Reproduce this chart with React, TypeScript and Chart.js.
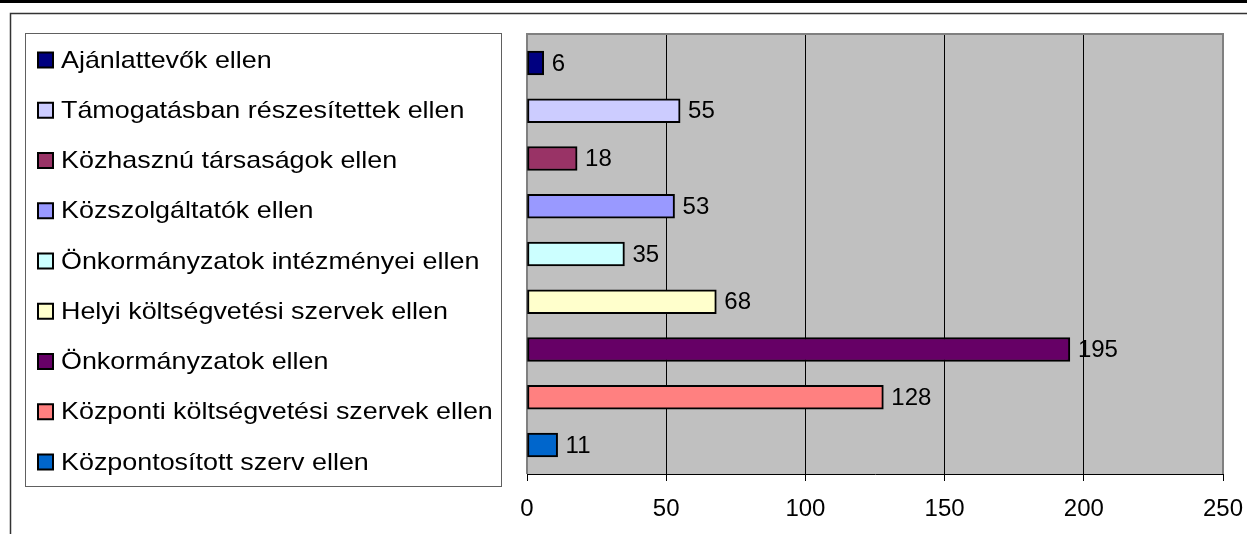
import { useEffect, useRef } from "react";
import { Chart, registerables } from "chart.js";

Chart.register(...registerables);

const categories = [
  "Ajánlattevők ellen",
  "Támogatásban részesítettek ellen",
  "Közhasznú társaságok ellen",
  "Közszolgáltatók ellen",
  "Önkormányzatok intézményei ellen",
  "Helyi költségvetési szervek ellen",
  "Önkormányzatok ellen",
  "Központi költségvetési szervek ellen",
  "Központosított szerv ellen",
];
const values = [6, 55, 18, 53, 35, 68, 195, 128, 11];
const colors = [
  "#000080",
  "#CCCCFF",
  "#993366",
  "#9999FF",
  "#CCFFFF",
  "#FFFFCC",
  "#660066",
  "#FF8080",
  "#0066CC",
];
const xTickValues = [0, 50, 100, 150, 200, 250];

const FONT = '"Liberation Sans", Arial, sans-serif';

const framePlugin = {
  id: "frame",
  beforeDraw(chart: any) {
    const { ctx, width, height, chartArea } = chart;
    ctx.save();
    ctx.fillStyle = "#ffffff";
    ctx.fillRect(0, 0, width, height);
    ctx.fillStyle = "#000000";
    ctx.fillRect(0, 0, width, 3);
    ctx.strokeStyle = "#333333";
    ctx.lineWidth = 1.5;
    ctx.beginPath();
    ctx.moveTo(10.5, height);
    ctx.lineTo(10.5, 13.5);
    ctx.lineTo(width, 13.5);
    ctx.stroke();
    ctx.fillStyle = "#C0C0C0";
    ctx.fillRect(
      chartArea.left,
      chartArea.top,
      chartArea.right - chartArea.left,
      chartArea.bottom - chartArea.top
    );
    ctx.restore();
  },
  beforeDatasetsDraw(chart: any) {
    const { ctx, chartArea } = chart;
    ctx.save();
    ctx.strokeStyle = "#808080";
    ctx.lineWidth = 2;
    ctx.beginPath();
    ctx.moveTo(chartArea.left, chartArea.bottom);
    ctx.lineTo(chartArea.left, chartArea.top);
    ctx.lineTo(chartArea.right, chartArea.top);
    ctx.lineTo(chartArea.right, chartArea.bottom);
    ctx.stroke();
    ctx.restore();
  },
  afterDatasetsDraw(chart: any) {
    const { ctx } = chart;
    const meta = chart.getDatasetMeta(0);
    ctx.save();
    ctx.fillStyle = "#000000";
    ctx.font = `24px ${FONT}`;
    ctx.textAlign = "left";
    ctx.textBaseline = "middle";
    meta.data.forEach((bar: any, i: number) => {
      ctx.fillText(String(values[i]), bar.x + 8, bar.y + 1);
    });
    ctx.restore();
  },
  afterDraw(chart: any) {
    const { ctx } = chart;
    ctx.save();
    ctx.strokeStyle = "#606060";
    ctx.lineWidth = 1;
    ctx.strokeRect(25.5, 33.5, 476, 453);
    categories.forEach((label, i) => {
      const cy = 60 + i * 50.25;
      ctx.fillStyle = colors[i];
      ctx.fillRect(38, cy - 7.5, 15, 15);
      ctx.strokeStyle = "#000000";
      ctx.lineWidth = 2;
      ctx.strokeRect(38, cy - 7.5, 15, 15);
      ctx.save();
      ctx.translate(61, cy + 1);
      ctx.scale(1.12, 1);
      ctx.font = `24px ${FONT}`;
      ctx.textAlign = "left";
      ctx.textBaseline = "middle";
      ctx.fillStyle = "#000000";
      ctx.fillText(label, 0, 0);
      ctx.restore();
    });
    ctx.restore();
  },
};

export default function App() {
  const canvasRef = useRef<HTMLCanvasElement | null>(null);

  useEffect(() => {
    document.body.style.margin = "0";
    const canvas = canvasRef.current;
    if (!canvas) return;
    const chart = new Chart(canvas, {
      type: "bar",
      data: {
        labels: categories,
        datasets: [
          {
            data: values.map((v, i) => ({ x: v, y: i })),
            backgroundColor: colors,
            borderColor: "#000000",
            borderWidth: 2,
            borderSkipped: false,
            barThickness: 24,
          } as any,
        ],
      },
      options: {
        indexAxis: "y",
        animation: false,
        responsive: false,
        maintainAspectRatio: false,
        devicePixelRatio: 1,
        layout: { padding: { left: 527, top: 34, right: 24, bottom: 0 } },
        plugins: {
          legend: { display: false },
          tooltip: { enabled: false },
        },
        scales: {
          y: {
            type: "linear",
            display: false,
            reverse: true,
            offset: false,
            min: -0.607,
            max: 8.607,
            grid: { offset: false },
          },
          x: {
            type: "linear",
            min: 0,
            max: 250,
            afterBuildTicks(scale: any) {
              scale.ticks = xTickValues.map((v) => ({ value: v }));
            },
            afterFit(scale: any) {
              scale.height = 60;
              scale.paddingLeft = 0;
              scale.paddingRight = 0;
            },
            border: { display: true, color: "#000000", width: 1 },
            grid: {
              drawOnChartArea: true,
              color: (c: any) =>
                c.tick && (c.tick.value === 0 || c.tick.value === 250)
                  ? "#808080"
                  : "#000000",
              tickColor: "#000000",
              tickLength: 7,
              lineWidth: 1,
            },
            ticks: {
              color: "#000000",
              font: { family: FONT, size: 24 },
              padding: 14,
              maxRotation: 0,
              autoSkip: false,
            },
          },
        },
      },
      plugins: [framePlugin],
    } as any);
    return () => chart.destroy();
  }, []);

  return (
    <canvas
      ref={canvasRef}
      width={1247}
      height={534}
      style={{ display: "block", width: 1247, height: 534 }}
    />
  );
}
